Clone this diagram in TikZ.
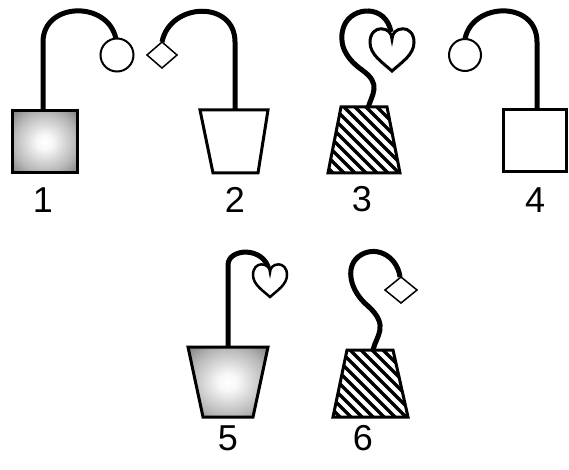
\documentclass[tikz,border=0pt]{standalone}
\usepackage{fontspec}
\setmainfont{Liberation Sans}
\usepackage{tikz}
\usetikzlibrary{arrows.meta,positioning}
\usepackage{xcolor}

\pgfdeclareradialshading{potglow}{\pgfpoint{0bp}{0bp}}{color(0bp)=(white); color(6bp)=(white!97!black); color(24bp)=(black!28); color(38bp)=(black!55); color(48bp)=(black!78); color(60bp)=(black!90); color(72bp)=(black!95)}

\tikzset{
  stem/.style={line width=5pt},
  pot/.style={line width=3pt,fill=white},
  glow/.style={shade,shading=potglow},
  hatched/.style={path picture={
      \foreach \d in {-108,-97,...,108}
        \draw[line width=3.3pt] ([xshift=\d pt]path picture bounding box.center) ++(-60,-60) -- ++(120,120);}},
  bud/.style={line width=2pt,fill=white},
  leaf/.style={line width=1.5pt,fill=white},
  num/.style={font=\fontsize{36}{40}\selectfont},
  bloomheart/.pic={
    \draw[line width=#1,fill=white] (0,1) .. controls (-0.45,0.6) and (-1,0.25) .. (-1,-0.3)
      .. controls (-1,-0.72) and (-0.75,-0.92) .. (-0.5,-0.92)
      .. controls (-0.2,-0.92) and (0,-0.72) .. (0,-0.45)
      .. controls (0,-0.72) and (0.2,-0.92) .. (0.5,-0.92)
      .. controls (0.75,-0.92) and (1,-0.72) .. (1,-0.3)
      .. controls (1,0.25) and (0.45,0.6) .. (0,1) -- cycle;}
}

\begin{document}
\begin{tikzpicture}[x=1pt,y=-1pt]
  \useasboundingbox (0,0) rectangle (569,470);

  % 1
  \draw[stem] (43,111) -- (43,42) .. controls (43,2) and (108,0) .. (116,39);
  \draw[bud] (117,55) circle[radius=16.5];
  \shadedraw[pot,glow] (12,111) rectangle (77,173);
  \node[num] (n1) at (43,200) {1};

  % 2
  \draw[stem] (235,110) -- (235,42) .. controls (235,0) and (170,2) .. (162,42);
  \draw[leaf] (162,55) +(-15,0) -- +(0,-13) -- +(15,0) -- +(0,13) -- cycle;
  \draw[pot] (200,110) -- (268,110) -- (258,173) -- (213,173) -- cycle;
  \node[num] (n2) at (235,200) {2};

  % 3
  \draw[stem] (368,108) .. controls (372,94) and (382,84) .. (362,70)
    .. controls (344,57) and (338,42) .. (344,26)
    .. controls (352,6) and (386,4) .. (391,32);
  \pic[scale=22] at (392,49) {bloomheart=3pt};
  \draw[pot,hatched] (341,107) -- (387,107) -- (400,173) -- (328,173) -- cycle;
  \node[num] (n3) at (362,199) {3};

  % 4
  \draw[stem] (537,110) -- (537,42) .. controls (537,0) and (472,2) .. (465,39);
  \draw[bud] (465,55) circle[radius=16];
  \draw[pot] (503,110) rectangle (566,172);
  \node[num] (n4) at (535,200) {4};

  % 5
  \draw[stem] (228,347) -- (228,265) .. controls (228,248) and (264,246) .. (269,270);
  \pic[scale=17] at (270,280) {bloomheart=2.5pt};
  \shadedraw[pot,glow] (188,347) -- (268,347) -- (253,417) -- (203,417) -- cycle;
  \node[num] (n5) at (228,438) {5};

  % 6
  \draw[stem] (373,350) .. controls (376,336) and (390,326) .. (368,306)
    .. controls (350,291) and (345,268) .. (358,257)
    .. controls (374,244) and (397,255) .. (400,277);
  \draw[leaf] (401,290) +(-16,0) -- +(0,-13) -- +(16,0) -- +(0,13) -- cycle;
  \draw[pot,hatched] (347,350) -- (393,350) -- (408,417) -- (333,417) -- cycle;
  \node[num] (n6) at (363,438) {6};
\end{tikzpicture}
\end{document}
